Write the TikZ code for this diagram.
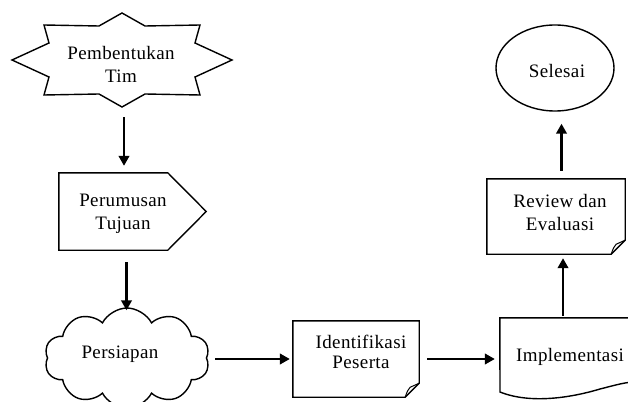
\documentclass[tikz,border=0pt]{standalone}
\usepackage{fontspec}
\setmainfont{Liberation Serif}[LetterSpace=2]
\usetikzlibrary{shapes.symbols,shapes.geometric,arrows.meta}
\begin{document}
\begin{tikzpicture}[x=1pt,y=-1pt,
  outl/.style={draw=black,line width=1.4pt,line join=miter},
  txt/.style={font=\fontsize{19}{23}\selectfont,align=center,inner sep=0pt},
  flow/.style={line width=2.4pt,-{Triangle[length=10pt,width=10.5pt]}}]
\useasboundingbox[fill=white] (0,0) rectangle (628,401);

% ---- star: Pembentukan Tim
\node[txt,minimum width=220,minimum height=96] (tim) at (122,60) {};
\draw[outl,shift={(tim.center)}] (0,-47) -- (-23,-34) -- (-78,-35) -- (-73,-17) -- (-110,0)
  -- (-73,17) -- (-78,35) -- (-23,34) -- (0,47) -- (23,34) -- (78,35) -- (73,17)
  -- (110,0) -- (73,-17) -- (78,-35) -- (23,-34) -- cycle;
\node[txt] (timt) at (121,64) {Pembentukan\\Tim};

% ---- pentagon: Perumusan Tujuan
\node[minimum width=147,minimum height=77,inner sep=0pt] (per) at (132.5,211.5) {};
\draw[outl] (per.north west) -- ++(109,0) -- (per.east) -- ([xshift=109pt]per.south west) -- (per.south west) -- cycle;
\node[txt] (pert) at (123,214) {Perumusan\\Tujuan};

% ---- cloud: Persiapan
\node[cloud,cloud puffs=10,cloud puff arc=125,outl,minimum width=165,minimum height=100,inner sep=0pt] (pers) at (127,358) {};
\node[txt] (perst) at (120,354) {Persiapan};

% ---- folded box: Identifikasi Peserta
\node[minimum width=126,minimum height=76,inner sep=0pt] (idn) at (356,359) {};
\draw[outl] (idn.north west) -- (idn.north east) -- ([yshift=14pt]idn.south east)
  -- ([xshift=-14pt]idn.south east) -- (idn.south west) -- cycle;
\draw[line width=1pt] ([xshift=-14pt]idn.south east) .. controls ([xshift=-12pt,yshift=6pt]idn.south east) .. ([xshift=-9pt,yshift=10pt]idn.south east) -- ([yshift=14pt]idn.south east);
\node[txt,font=\fontsize{19}{20}\selectfont] (idnt) at (361,352) {Identifikasi\\Peserta};

% ---- document: Implementasi
\node[minimum width=130,minimum height=74,inner sep=0pt] (imp) at (565,355) {};
\draw[outl] (imp.north east) -- (imp.north west) -- (500,392)
  .. controls (530,404) and (570,398) .. (600,389) .. controls (612,386) and (622,383) .. (632,382);
\node[txt] (impt) at (570,357) {Implementasi};

% ---- folded box: Review dan Evaluasi
\node[minimum width=138,minimum height=75,inner sep=0pt] (rev) at (556,216.5) {};
\draw[outl] (rev.north west) -- (rev.north east) -- ([yshift=14pt]rev.south east)
  -- ([xshift=-14pt]rev.south east) -- (rev.south west) -- cycle;
\draw[line width=1pt] ([xshift=-14pt]rev.south east) .. controls ([xshift=-12pt,yshift=6pt]rev.south east) .. ([xshift=-9pt,yshift=10pt]rev.south east) -- ([yshift=14pt]rev.south east);
\node[txt] (revt) at (560,212) {Review dan\\Evaluasi};

% ---- ellipse: Selesai
\node[ellipse,outl,minimum width=118,minimum height=86,inner sep=0pt] (sel) at (555,68) {};
\node[txt] (selt) at (557,71) {Selesai};

% ---- connectors
\draw[flow,shorten <=9pt,shorten >=7pt] ([xshift=2pt]tim.south) -- ([xshift=2pt]tim.south |- per.north);
\draw[flow,shorten <=12pt,shorten >=-3pt] ([xshift=-6pt]per.south) -- ([xshift=-6pt]per.south |- pers.north);
\draw[flow,shorten <=8pt,shorten >=3pt] (pers.east |- idn.west) -- (idn.west);
\draw[flow,shorten <=8pt,shorten >=5pt] (idn.east) -- (idn.east -| imp.west);
\draw[flow,shorten <=2pt,shorten >=4pt] ([xshift=-2pt]imp.north) -- ([xshift=-2pt]imp.north |- rev.south);
\draw[flow,shorten <=8pt,shorten >=12pt] ([xshift=5.5pt]rev.north) -- ([xshift=5.5pt]rev.north |- sel.south);
\end{tikzpicture}
\end{document}
